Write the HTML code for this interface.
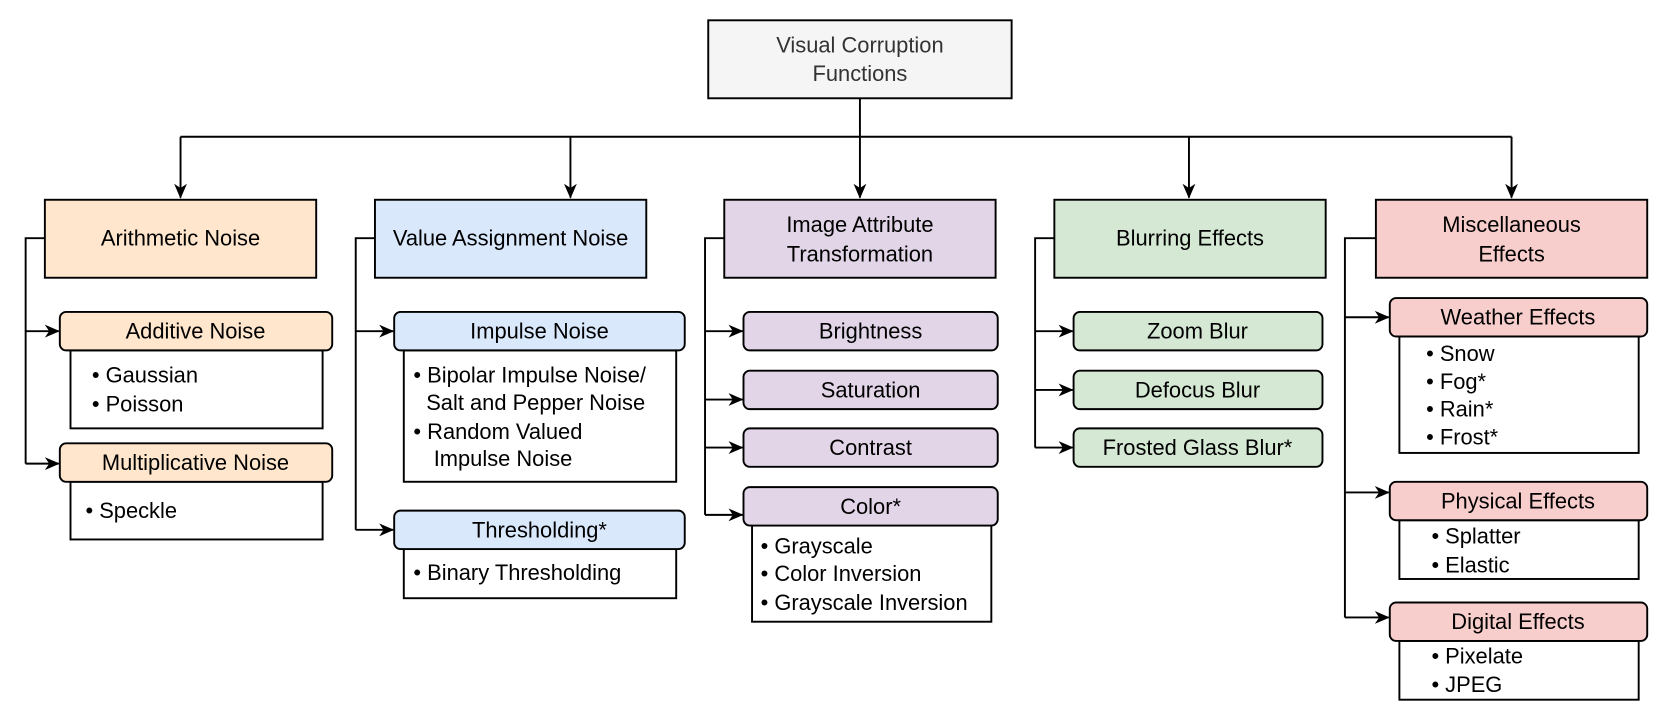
<!DOCTYPE html>
<html><head><meta charset="utf-8"><style>html,body{margin:0;padding:0;background:#fff}svg{display:block}text{font-family:"Liberation Sans",sans-serif;font-size:20.5px;fill:#000}</style></head>
<body>
<svg width="1675" height="720" viewBox="0 0 1568 674" xmlns="http://www.w3.org/2000/svg">
<defs><marker id="a" markerWidth="14" markerHeight="12" refX="13" refY="6" orient="auto" markerUnits="userSpaceOnUse"><path d="M0,0 L14,6 L0,12 L4,6 Z" fill="#000"/></marker></defs>
<g stroke="#000" stroke-width="1.8" fill="none">
<path d="M805,92 V185" marker-end="url(#a)"/>
<path d="M169,128 H1415"/>
<path d="M169,128 V185" marker-end="url(#a)"/>
<path d="M534,128 V185" marker-end="url(#a)"/>
<path d="M1113,128 V185" marker-end="url(#a)"/>
<path d="M1415,128 V185" marker-end="url(#a)"/>
<path d="M42,223 H24 V434"/>
<path d="M24,310 H55" marker-end="url(#a)"/><path d="M24,434 H55" marker-end="url(#a)"/>
<path d="M351,223 H333 V496"/>
<path d="M333,310 H368" marker-end="url(#a)"/><path d="M333,496 H368" marker-end="url(#a)"/>
<path d="M678,223 H660 V482"/>
<path d="M660,310 H695" marker-end="url(#a)"/><path d="M660,374 H695" marker-end="url(#a)"/><path d="M660,419 H695" marker-end="url(#a)"/><path d="M660,482 H695" marker-end="url(#a)"/>
<path d="M987,223 H969 V419"/>
<path d="M969,310 H1004" marker-end="url(#a)"/><path d="M969,365 H1004" marker-end="url(#a)"/><path d="M969,419 H1004" marker-end="url(#a)"/>
<path d="M1288,223 H1259 V578"/>
<path d="M1259,297 H1300" marker-end="url(#a)"/><path d="M1259,461 H1300" marker-end="url(#a)"/><path d="M1259,578 H1300" marker-end="url(#a)"/>
</g>
<g stroke="#000" stroke-width="1.8">
<rect x="663" y="19" width="284" height="73" fill="#f5f5f5"/>
<rect x="42" y="187" width="254" height="73" fill="#ffe6cc"/>
<rect x="351" y="187" width="254" height="73" fill="#dae8fc"/>
<rect x="678" y="187" width="254" height="73" fill="#e1d5e7"/>
<rect x="987" y="187" width="254" height="73" fill="#d5e8d4"/>
<rect x="1288" y="187" width="254" height="73" fill="#f8cecc"/>
<rect x="66" y="328" width="236" height="73" fill="#fff"/>
<rect x="66" y="451" width="236" height="54" fill="#fff"/>
<rect x="378" y="328" width="255" height="123" fill="#fff"/>
<rect x="378" y="514" width="255" height="46" fill="#fff"/>
<rect x="704" y="492" width="224" height="90" fill="#fff"/>
<rect x="1310" y="315" width="224" height="109" fill="#fff"/>
<rect x="1310" y="487" width="224" height="55" fill="#fff"/>
<rect x="1310" y="600" width="224" height="55" fill="#fff"/>
<rect x="56" y="292" width="255" height="36" rx="6" fill="#ffe6cc"/>
<rect x="56" y="415" width="255" height="36" rx="6" fill="#ffe6cc"/>
<rect x="369" y="292" width="272" height="36" rx="6" fill="#dae8fc"/>
<rect x="369" y="478" width="272" height="36" rx="6" fill="#dae8fc"/>
<rect x="696" y="292" width="238" height="36" rx="6" fill="#e1d5e7"/>
<rect x="696" y="347" width="238" height="36" rx="6" fill="#e1d5e7"/>
<rect x="696" y="401" width="238" height="36" rx="6" fill="#e1d5e7"/>
<rect x="696" y="456" width="238" height="36" rx="6" fill="#e1d5e7"/>
<rect x="1005" y="292" width="233" height="36" rx="6" fill="#d5e8d4"/>
<rect x="1005" y="347" width="233" height="36" rx="6" fill="#d5e8d4"/>
<rect x="1005" y="401" width="233" height="36" rx="6" fill="#d5e8d4"/>
<rect x="1301" y="279" width="241" height="36" rx="6" fill="#f8cecc"/>
<rect x="1301" y="451" width="241" height="36" rx="6" fill="#f8cecc"/>
<rect x="1301" y="564" width="241" height="36" rx="6" fill="#f8cecc"/>
</g>
<g text-anchor="middle">
<text x="805" y="49" style="fill:#333">Visual Corruption</text>
<text x="805" y="76" style="fill:#333">Functions</text>
<text x="169" y="230">Arithmetic Noise</text>
<text x="478" y="230">Value Assignment Noise</text>
<text x="805" y="217">Image Attribute</text>
<text x="805" y="245">Transformation</text>
<text x="1114" y="230">Blurring Effects</text>
<text x="1415" y="217">Miscellaneous</text>
<text x="1415" y="245">Effects</text>
<text x="183" y="317">Additive Noise</text>
<text x="183" y="440">Multiplicative Noise</text>
<text x="505" y="317">Impulse Noise</text>
<text x="505" y="503">Thresholding*</text>
<text x="815" y="317">Brightness</text>
<text x="815" y="372">Saturation</text>
<text x="815" y="426">Contrast</text>
<text x="815" y="481">Color*</text>
<text x="1121" y="317">Zoom Blur</text>
<text x="1121" y="372">Defocus Blur</text>
<text x="1121" y="426">Frosted Glass Blur*</text>
<text x="1421" y="304">Weather Effects</text>
<text x="1421" y="476">Physical Effects</text>
<text x="1421" y="589">Digital Effects</text>
</g>
<g>
<text x="86" y="358">• Gaussian</text>
<text x="86" y="385">• Poisson</text>
<text x="80" y="485">• Speckle</text>
<text x="387" y="358">• Bipolar Impulse Noise/</text>
<text x="399" y="384">Salt and Pepper Noise</text>
<text x="387" y="411">• Random Valued</text>
<text x="406" y="436">Impulse Noise</text>
<text x="387" y="543">• Binary Thresholding</text>
<text x="712" y="518">• Grayscale</text>
<text x="712" y="544">• Color Inversion</text>
<text x="712" y="571">• Grayscale Inversion</text>
<text x="1335" y="338">• Snow</text>
<text x="1335" y="364">• Fog*</text>
<text x="1335" y="390">• Rain*</text>
<text x="1335" y="416">• Frost*</text>
<text x="1340" y="509">• Splatter</text>
<text x="1340" y="536">• Elastic</text>
<text x="1340" y="621">• Pixelate</text>
<text x="1340" y="648">• JPEG</text>
</g>
</svg>
</body></html>
